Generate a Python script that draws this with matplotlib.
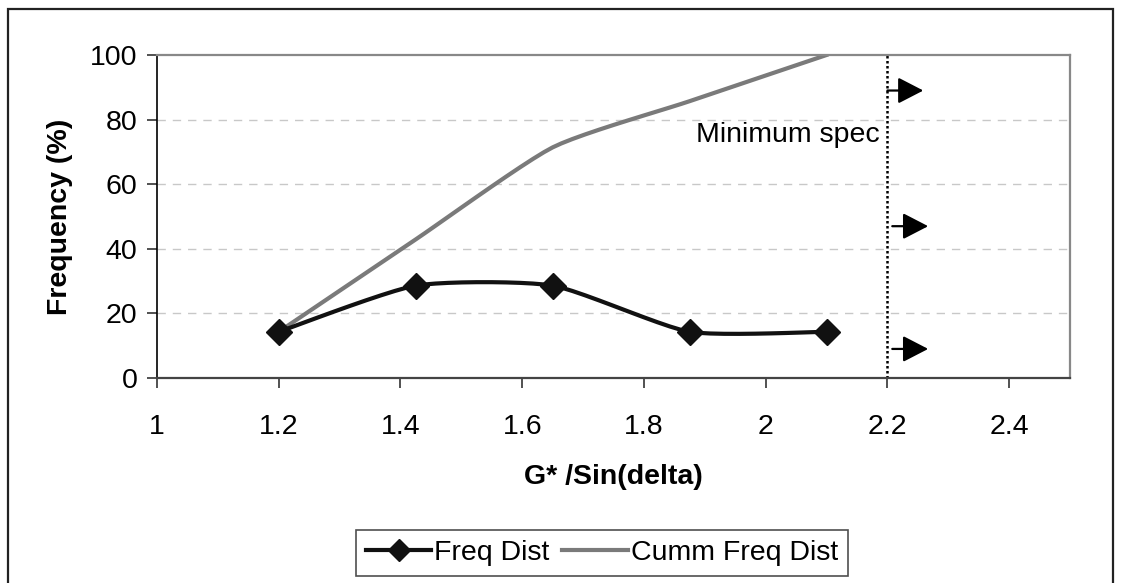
import numpy as np
import matplotlib
matplotlib.use("Agg")
import matplotlib.pyplot as plt
from matplotlib.patches import Rectangle

plt.rcParams['font.family'] = ['Liberation Sans', 'DejaVu Sans']

# ---- data ----
x_vals = [1.2, 1.425, 1.65, 1.875, 2.1]
freq_dist = [14.3, 28.6, 28.6, 14.3, 14.3]
cumm_freq = [14.3, 42.9, 71.4, 85.7, 100.0]
spec_x = 2.2
arrow_y = [89, 47, 9]
x_ticks = [1, 1.2, 1.4, 1.6, 1.8, 2, 2.2, 2.4]
x_tick_labels = ['1', '1.2', '1.4', '1.6', '1.8', '2', '2.2', '2.4']
y_ticks = [0, 20, 40, 60, 80, 100]


def smooth(xs, ys, n=12, t=0.6):
    """Cardinal-spline smoothing (like Excel smoothed lines)."""
    xs = np.asarray(xs, float); ys = np.asarray(ys, float)
    P = np.column_stack([xs, ys])
    P = np.vstack([P[0], P, P[-1]])
    out = []
    for i in range(1, len(P) - 2):
        p0, p1, p2, p3 = P[i - 1], P[i], P[i + 1], P[i + 2]
        m1 = t * (p2 - p0) * 0.5
        m2 = t * (p3 - p1) * 0.5
        s = np.linspace(0, 1, n)[:, None]
        h00 = 2 * s**3 - 3 * s**2 + 1
        h10 = s**3 - 2 * s**2 + s
        h01 = -2 * s**3 + 3 * s**2
        h11 = s**3 - s**2
        seg = h00 * p1 + h10 * m1 + h01 * p2 + h11 * m2
        out.append(seg if i == 1 else seg[1:])
    out = np.vstack(out)
    return out[:, 0], out[:, 1]


fig = plt.figure(figsize=(11.27, 5.83), dpi=100)
W, H = 1127, 583
FS = 20.5

# outer chart frame
fig.patches.append(Rectangle((8 / W, -0.05), (1113 - 8) / W, (583 - 9) / H + 0.05,
                             transform=fig.transFigure, fill=False,
                             edgecolor='#222222', linewidth=1.6))

ax = fig.add_axes([157 / W, 1 - 378 / H, (1070 - 157) / W, (378 - 55) / H])
ax.set_xlim(1, 2.5)
ax.set_ylim(0, 100)

for y in y_ticks[1:-1]:
    ax.axhline(y, color='#c8c8c8', linestyle=(0, (6, 5)), linewidth=1.0, zorder=0)

fx, fy = smooth(x_vals, freq_dist)
cx, cy = smooth(x_vals, cumm_freq)
ax.plot(cx, cy, color='#7a7a7a', linewidth=3.0, zorder=2)
ax.plot(fx, fy, color='#111111', linewidth=3.0, zorder=3)
ax.plot(x_vals, freq_dist, linestyle='none', marker='D', markersize=13,
        color='#111111', zorder=4)
h_freq, = ax.plot([], [], color='#111111', linewidth=3.0, marker='D',
                  markersize=11, label='Freq Dist')
h_cumm, = ax.plot([], [], color='#7a7a7a', linewidth=3.0, label='Cumm Freq Dist')

ax.axvline(spec_x, color='black', linestyle=(0, (1, 1.0)), linewidth=1.8, zorder=2)
ax.text(2.1875, 73.2, 'Minimum spec', ha='right', va='baseline', fontsize=FS)

starts = [spec_x, spec_x + 0.008, spec_x + 0.008]
for sx, yy in zip(starts, arrow_y):
    ax.annotate('', xy=(sx + 0.059, yy), xytext=(sx, yy),
                arrowprops=dict(arrowstyle='-|>,head_length=1.2,head_width=0.62',
                                mutation_scale=13, color='black', lw=1.6,
                                shrinkA=0, shrinkB=0), zorder=5)

ax.set_xticks(x_ticks)
ax.set_xticklabels(x_tick_labels)
ax.set_yticks(y_ticks)
ax.tick_params(axis='both', labelsize=FS, direction='out', length=7, width=1.2,
               colors='#333333', labelcolor='black')
ax.tick_params(axis='x', pad=19)
ax.tick_params(axis='y', pad=7)

ax.spines['left'].set_color('black')
ax.spines['left'].set_linewidth(1.2)
ax.spines['bottom'].set_color('#444444')
ax.spines['bottom'].set_linewidth(1.6)
for s in ('top', 'right'):
    ax.spines[s].set_color('#888888')
    ax.spines[s].set_linewidth(1.6)

ax.set_xlabel('G* /Sin(delta)', fontsize=FS, fontweight='bold', labelpad=17)
ax.set_ylabel('Frequency (%)', fontsize=FS, fontweight='bold', labelpad=12)

leg = fig.legend(handles=[h_freq, h_cumm], loc='center',
                 bbox_to_anchor=((360 + 844) / 2 / W, 1 - 553 / H),
                 ncol=2, fontsize=FS, frameon=True, fancybox=False,
                 handlelength=2.3, handletextpad=0.1, columnspacing=0.45,
                 borderpad=0.35, borderaxespad=0)
leg.get_frame().set_edgecolor('#222222')
leg.get_frame().set_linewidth(1.2)

fig.savefig('out.png', dpi=100)
